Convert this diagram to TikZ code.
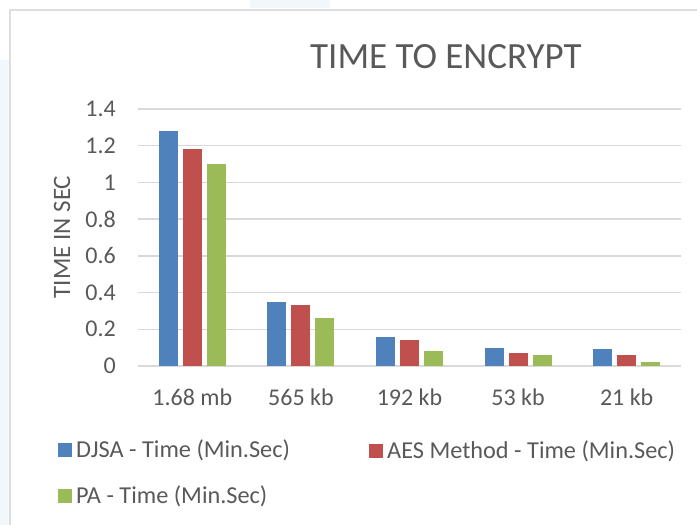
\documentclass[tikz,border=0pt]{standalone}
\usepackage{fontspec}
\setmainfont{Carlito}
\definecolor{txt}{HTML}{595959}
\definecolor{grid}{HTML}{D9D9D9}
\definecolor{frame}{HTML}{DEDEDE}
\definecolor{cblue}{HTML}{4F81BD}
\definecolor{cred}{HTML}{C0504D}
\definecolor{cgreen}{HTML}{9BBB59}
\definecolor{glow}{HTML}{F2F7FC}
\tikzset{
  lbl/.style={text=txt, font=\fontsize{24}{27}\selectfont, inner sep=0pt},
  lgd/.style={text=txt, font=\fontsize{24.3}{27}\selectfont, inner sep=0pt},
  ttl/.style={text=txt, font=\fontsize{37}{40}\selectfont, inner sep=0pt},
  gridline/.style={draw=grid, line width=1.5pt},
  keybox/.style={minimum width=14pt, minimum height=14pt, inner sep=0pt},
}
\begin{document}
\begin{tikzpicture}[x=1pt,y=-1pt]
\useasboundingbox (0,0) rectangle (697,525);
% faint glow at left edge
\fill[glow] (0,60) rectangle (9,525);
\fill[glow] (250,0) rectangle (330,8);
% chart frame
\draw[frame, line width=1.5pt] (10,525) -- (10,10) -- (697,10);
% title
\node[ttl, anchor=west] (title) at (310,57) {TIME TO ENCRYPT};
% gridlines and y labels
\foreach \v/\t [count=\i] in {0/0,0.2/0.2,0.4/0.4,0.6/0.6,0.8/0.8,1.0/1,1.2/1.2,1.4/1.4}{
  \pgfmathsetmacro{\yy}{366-\v*183.57}
  \draw[gridline] (138,\yy) coordinate (gl\i) -- (681,\yy) coordinate (gr\i);
  \node[lbl, anchor=east] (yt\i) at (116,\yy) {\t};
}
% y-axis title
\node[lbl, font=\fontsize{25}{28}\selectfont, rotate=90] (ytitle) at (62,237) {TIME IN SEC};
% bars
\foreach \c/\a/\b/\g/\name [count=\k from 0] in {
  1.68 mb/1.28/1.18/1.10/c1,
  565 kb/0.35/0.33/0.26/c2,
  192 kb/0.16/0.14/0.08/c3,
  53 kb/0.10/0.07/0.06/c4,
  21 kb/0.09/0.06/0.02/c5}{
  \pgfmathsetmacro{\cx}{138+108.6*(\k+0.5)}
  \pgfmathsetmacro{\ya}{366-\a*183.57}
  \pgfmathsetmacro{\yb}{366-\b*183.57}
  \pgfmathsetmacro{\yg}{366-\g*183.57}
  \fill[cblue] (\cx-33.5,365.5) rectangle (\cx-14.5,\ya);
  \fill[cred] (\cx-9.5,365.5) rectangle (\cx+9.5,\yb);
  \fill[cgreen] (\cx+14.5,365.5) rectangle (\cx+33.5,\yg);
  \node[lbl] (\name) at (\cx,397) {\c};
}
% legend
\node[keybox, fill=cblue] (k1) at (65,450) {};
\node[lgd, anchor=west] (l1) at (76,450) {DJSA - Time (Min.Sec)};
\node[keybox, fill=cred] (k2) at (376,451) {};
\node[lgd, anchor=west] (l2) at (387,451) {AES Method - Time (Min.Sec)};
\node[keybox, fill=cgreen] (k3) at (65,496) {};
\node[lgd, anchor=west] (l3) at (76,496) {PA - Time (Min.Sec)};
\end{tikzpicture}
\end{document}
